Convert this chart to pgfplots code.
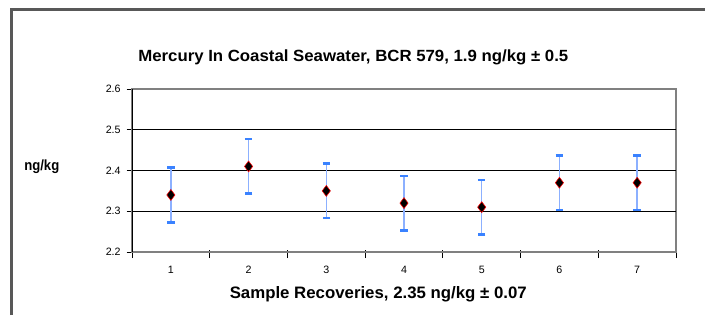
\documentclass[border=0pt]{standalone}
\usepackage{pgfplots}
\pgfplotsset{compat=1.18}
\usepackage{fontspec}
\setmainfont{Liberation Sans}
\usepackage{graphicx}
\definecolor{framegray}{HTML}{585858}
\definecolor{bordergray}{HTML}{808080}
\definecolor{barblue}{HTML}{8CB0FF}
\definecolor{capblue}{HTML}{3A82FF}
\begin{document}
\begin{tikzpicture}
\path[use as bounding box] (0pt,0pt) rectangle (528.75pt,236.25pt);
% outer chart frame
\draw[framegray, line width=1.9pt] (8.475pt,0pt) -- (8.475pt,229.1pt) -- (528.75pt,229.1pt);
% title
\node[anchor=base, inner sep=0pt] at (265pt,190pt)
  {\resizebox{322.5pt}{8.8pt}{\bfseries Mercury In Coastal Seawater, BCR 579, 1.9 ng/kg ± 0.5}};
% y label
\node[anchor=base west, inner sep=0pt] at (18pt,108.2pt)
  {\resizebox{26.25pt}{8pt}{\bfseries ng/kg}};
% x label
\node[anchor=base, inner sep=0pt] at (283.7pt,12.75pt)
  {\resizebox{222.75pt}{9pt}{\bfseries Sample Recoveries, 2.35 ng/kg ± 0.07}};
\begin{axis}[
  at={(99pt,47.25pt)}, anchor=south west,
  scale only axis, width=408pt, height=122.25pt,
  xmin=0.5, xmax=7.5, ymin=2.2, ymax=2.6,
  xtick={1,...,7}, xticklabels={1,2,3,4,5,6,7},
  minor xtick={0.5,1.5,...,7.5},
  ytick={2.2,2.3,2.4,2.5,2.6},
  yticklabels={2.2,2.3,2.4,2.5,2.6},
  extra y ticks={2.3,2.4,2.5}, extra y tick labels={},
  extra y tick style={grid=major, major tick length=0pt,
    major grid style={black, line width=0.75pt}},
  xtick pos=bottom, ytick pos=left,
  major x tick style={draw=none},
  minor x tick style={black, line width=0.6pt, yshift=1.5pt},
  minor tick length=6pt,
  major tick length=4pt,
  y tick style={black, line width=0.6pt},
  tick align=outside,
  axis line style={draw=bordergray, line width=1pt},
  ticklabel style={font=\fontsize{8}{9.6}\selectfont},
  xticklabel style={yshift=-3pt},
  yticklabel style={xshift=-1pt},
  clip=false,
]
\addplot[
  only marks,
  mark=diamond*, mark size=4.1pt,
  mark options={fill=black, draw=red, line width=0.4pt},
  error bars/.cd,
    y dir=both, y fixed=0.067,
    error bar style={barblue, line width=1.1pt},
    error mark options={rotate=90, mark size=2.8pt, capblue, line width=1.9pt},
] coordinates {
  (1,2.34) (2,2.41) (3,2.35) (4,2.32) (5,2.31) (6,2.37) (7,2.37)
};
\draw[black, line width=0.75pt] (rel axis cs:0,0) -- (rel axis cs:0,1);
\end{axis}
\end{tikzpicture}
\end{document}
